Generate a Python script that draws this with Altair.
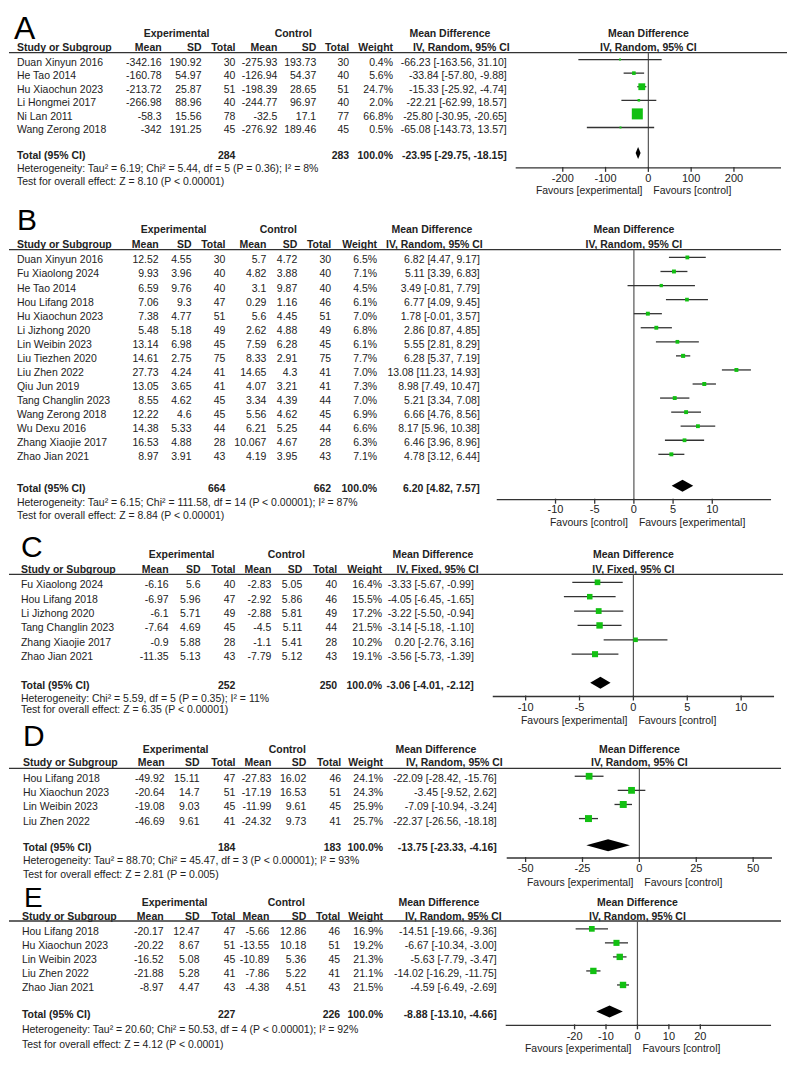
import altair as alt
import pandas as pd

FONT = "Liberation Sans"
INK = "#222222"
LINE = "#333333"
GREEN = "#12c012"

# ---------------- Panel A ----------------
A_study = ["Duan Xinyun 2016", "He Tao 2014", "Hu Xiaochun 2023", "Li Hongmei 2017", "Ni Lan 2011", "Wang Zerong 2018"]
A_em = [-342.16, -160.78, -213.72, -266.98, -58.3, -342]
A_esd = [190.92, 54.97, 25.87, 88.96, 15.56, 191.25]
A_en = [30, 40, 51, 40, 78, 45]
A_cm = [-275.93, -126.94, -198.39, -244.77, -32.5, -276.92]
A_csd = [193.73, 54.37, 28.65, 96.97, 17.1, 189.46]
A_cn = [30, 40, 51, 40, 77, 45]
A_w = [0.4, 5.6, 24.7, 2.0, 66.8, 0.5]
A_md = [-66.23, -33.84, -15.33, -22.21, -25.80, -65.08]
A_lo = [-163.56, -57.80, -25.92, -62.99, -30.95, -143.73]
A_hi = [31.10, -9.88, -4.74, 18.57, -20.65, 13.57]
A_tot_n = [284, 283]
A_tot = [-23.95, -29.75, -18.15]
A_het = "Heterogeneity: Tau\u00b2 = 6.19; Chi\u00b2 = 5.44, df = 5 (P = 0.36); I\u00b2 = 8%"
A_test = "Test for overall effect: Z = 8.10 (P < 0.00001)"
A_ticks = [-200, -100, 0, 100, 200]
A_fav = ["Favours [experimental]", "Favours [control]"]
A_method = "IV, Random, 95% CI"

# ---------------- Panel B ----------------
B_study = ["Duan Xinyun 2016", "Fu Xiaolong 2024", "He Tao 2014", "Hou Lifang 2018", "Hu Xiaochun 2023",
           "Li Jizhong 2020", "Lin Weibin 2023", "Liu Tiezhen 2020", "Liu Zhen 2022", "Qiu Jun 2019",
           "Tang Changlin 2023", "Wang Zerong 2018", "Wu Dexu 2016", "Zhang Xiaojie 2017", "Zhao Jian 2021"]
B_em = [12.52, 9.93, 6.59, 7.06, 7.38, 5.48, 13.14, 14.61, 27.73, 13.05, 8.55, 12.22, 14.38, 16.53, 8.97]
B_esd = [4.55, 3.96, 9.76, 9.3, 4.77, 5.18, 6.98, 2.75, 4.24, 3.65, 4.62, 4.6, 5.33, 4.88, 3.91]
B_en = [30, 40, 40, 47, 51, 49, 45, 75, 41, 41, 45, 45, 44, 28, 43]
B_cm = [5.7, 4.82, 3.1, 0.29, 5.6, 2.62, 7.59, 8.33, 14.65, 4.07, 3.34, 5.56, 6.21, 10.067, 4.19]
B_csd = [4.72, 3.88, 9.87, 1.16, 4.45, 4.88, 6.28, 2.91, 4.3, 3.21, 4.39, 4.62, 5.25, 4.67, 3.95]
B_cn = [30, 40, 40, 46, 51, 49, 45, 75, 41, 41, 44, 45, 44, 28, 43]
B_w = [6.5, 7.1, 4.5, 6.1, 7.0, 6.8, 6.1, 7.7, 7.0, 7.3, 7.0, 6.9, 6.6, 6.3, 7.1]
B_md = [6.82, 5.11, 3.49, 6.77, 1.78, 2.86, 5.55, 6.28, 13.08, 8.98, 5.21, 6.66, 8.17, 6.46, 4.78]
B_lo = [4.47, 3.39, -0.81, 4.09, -0.01, 0.87, 2.81, 5.37, 11.23, 7.49, 3.34, 4.76, 5.96, 3.96, 3.12]
B_hi = [9.17, 6.83, 7.79, 9.45, 3.57, 4.85, 8.29, 7.19, 14.93, 10.47, 7.08, 8.56, 10.38, 8.96, 6.44]
B_tot_n = [664, 662]
B_tot = [6.20, 4.82, 7.57]
B_het = "Heterogeneity: Tau\u00b2 = 6.15; Chi\u00b2 = 111.58, df = 14 (P < 0.00001); I\u00b2 = 87%"
B_test = "Test for overall effect: Z = 8.84 (P < 0.00001)"
B_ticks = [-10, -5, 0, 5, 10]
B_fav = ["Favours [control]", "Favours [experimental]"]
B_method = "IV, Random, 95% CI"

# ---------------- Panel C ----------------
C_study = ["Fu Xiaolong 2024", "Hou Lifang 2018", "Li Jizhong 2020", "Tang Changlin 2023", "Zhang Xiaojie 2017", "Zhao Jian 2021"]
C_em = [-6.16, -6.97, -6.1, -7.64, -0.9, -11.35]
C_esd = [5.6, 5.96, 5.71, 4.69, 5.88, 5.13]
C_en = [40, 47, 49, 45, 28, 43]
C_cm = [-2.83, -2.92, -2.88, -4.5, -1.1, -7.79]
C_csd = [5.05, 5.86, 5.81, 5.11, 5.41, 5.12]
C_cn = [40, 46, 49, 44, 28, 43]
C_w = [16.4, 15.5, 17.2, 21.5, 10.2, 19.1]
C_md = [-3.33, -4.05, -3.22, -3.14, 0.20, -3.56]
C_lo = [-5.67, -6.45, -5.50, -5.18, -2.76, -5.73]
C_hi = [-0.99, -1.65, -0.94, -1.10, 3.16, -1.39]
C_tot_n = [252, 250]
C_tot = [-3.06, -4.01, -2.12]
C_het = "Heterogeneity: Chi\u00b2 = 5.59, df = 5 (P = 0.35); I\u00b2 = 11%"
C_test = "Test for overall effect: Z = 6.35 (P < 0.00001)"
C_ticks = [-10, -5, 0, 5, 10]
C_fav = ["Favours [experimental]", "Favours [control]"]
C_method = "IV, Fixed, 95% CI"

# ---------------- Panel D ----------------
D_study = ["Hou Lifang 2018", "Hu Xiaochun 2023", "Lin Weibin 2023", "Liu Zhen 2022"]
D_em = [-49.92, -20.64, -19.08, -46.69]
D_esd = [15.11, 14.7, 9.03, 9.61]
D_en = [47, 51, 45, 41]
D_cm = [-27.83, -17.19, -11.99, -24.32]
D_csd = [16.02, 16.53, 9.61, 9.73]
D_cn = [46, 51, 45, 41]
D_w = [24.1, 24.3, 25.9, 25.7]
D_md = [-22.09, -3.45, -7.09, -22.37]
D_lo = [-28.42, -9.52, -10.94, -26.56]
D_hi = [-15.76, 2.62, -3.24, -18.18]
D_tot_n = [184, 183]
D_tot = [-13.75, -23.33, -4.16]
D_het = "Heterogeneity: Tau\u00b2 = 88.70; Chi\u00b2 = 45.47, df = 3 (P < 0.00001); I\u00b2 = 93%"
D_test = "Test for overall effect: Z = 2.81 (P = 0.005)"
D_ticks = [-50, -25, 0, 25, 50]
D_fav = ["Favours [experimental]", "Favours [control]"]
D_method = "IV, Random, 95% CI"

# ---------------- Panel E ----------------
E_study = ["Hou Lifang 2018", "Hu Xiaochun 2023", "Lin Weibin 2023", "Liu Zhen 2022", "Zhao Jian 2021"]
E_em = [-20.17, -20.22, -16.52, -21.88, -8.97]
E_esd = [12.47, 8.67, 5.08, 5.28, 4.47]
E_en = [47, 51, 45, 41, 43]
E_cm = [-5.66, -13.55, -10.89, -7.86, -4.38]
E_csd = [12.86, 10.18, 5.36, 5.22, 4.51]
E_cn = [46, 51, 45, 41, 43]
E_w = [16.9, 19.2, 21.3, 21.1, 21.5]
E_md = [-14.51, -6.67, -5.63, -14.02, -4.59]
E_lo = [-19.66, -10.34, -7.79, -16.29, -6.49]
E_hi = [-9.36, -3.00, -3.47, -11.75, -2.69]
E_tot_n = [227, 226]
E_tot = [-8.88, -13.10, -4.66]
E_het = "Heterogeneity: Tau\u00b2 = 20.60; Chi\u00b2 = 50.53, df = 4 (P < 0.00001); I\u00b2 = 92%"
E_test = "Test for overall effect: Z = 4.12 (P < 0.0001)"
E_ticks = [-20, -10, 0, 10, 20]
E_fav = ["Favours [experimental]", "Favours [control]"]
E_method = "IV, Random, 95% CI"


def pack(s, em, esd, en, cm, csd, cn, w, md, lo, hi, totn, tot, het, test, ticks, fav, method):
    return dict(study=s, em=em, esd=esd, en=en, cm=cm, csd=csd, cn=cn, w=w, md=md, lo=lo, hi=hi,
                totn=totn, tot=tot, het=het, test=test, ticks=ticks, fav=fav, method=method)


PANELS = {
    "A": pack(A_study, A_em, A_esd, A_en, A_cm, A_csd, A_cn, A_w, A_md, A_lo, A_hi, A_tot_n, A_tot, A_het, A_test, A_ticks, A_fav, A_method),
    "B": pack(B_study, B_em, B_esd, B_en, B_cm, B_csd, B_cn, B_w, B_md, B_lo, B_hi, B_tot_n, B_tot, B_het, B_test, B_ticks, B_fav, B_method),
    "C": pack(C_study, C_em, C_esd, C_en, C_cm, C_csd, C_cn, C_w, C_md, C_lo, C_hi, C_tot_n, C_tot, C_het, C_test, C_ticks, C_fav, C_method),
    "D": pack(D_study, D_em, D_esd, D_en, D_cm, D_csd, D_cn, D_w, D_md, D_lo, D_hi, D_tot_n, D_tot, D_het, D_test, D_ticks, D_fav, D_method),
    "E": pack(E_study, E_em, E_esd, E_en, E_cm, E_csd, E_cn, E_w, E_md, E_lo, E_hi, E_tot_n, E_tot, E_het, E_test, E_ticks, E_fav, E_method),
}

# ---------------- layout (page pixel positions) ----------------
LAYOUT = {
    "A": dict(letter=(13, 35, 32), h1=30, h2=44, line=49, line_end=792, first=59, last=128, total=154,
              het=167, test=180, axis=166, ticklab=177, fav=190, ax=(516, 782), dom=(-310, 310), sq=181,
              cols=dict(study=16, em=161, esd=201, en=235, cm=277, csd=316, cn=349, w=393, ci=507,
                        cihead=510, exp=176, ctl=293, mdhead=450)),
    "B": dict(letter=(16, 229, 30), h1=229, h2=244, line=249, line_end=782, first=260, last=460, total=492,
              het=506, test=520, axis=503, ticklab=514, fav=527, ax=(497, 772), dom=(-17.5, 17.5), sq=130,
              cols=dict(study=16, em=158, esd=191, en=225, cm=266, csd=297, cn=331, w=377, ci=480,
                        cihead=483, exp=173, ctl=278, mdhead=432)),
    "C": dict(letter=(20, 561, 30), h1=559, h2=574, line=579, line_end=784, first=590, last=663, total=692,
              het=705, test=717, axis=703, ticklab=715, fav=728, ax=(493, 775), dom=(-13.05, 13.05), sq=105,
              cols=dict(study=20, em=168, esd=200, en=235, cm=271, csd=302, cn=337, w=382, ci=474,
                        cihead=479, exp=181, ctl=286, mdhead=433)),
    "D": dict(letter=(22, 753, 30), h1=757, h2=771, line=776, line_end=782, first=787, last=830, total=857,
              het=870, test=884, axis=867, ticklab=878, fav=892, ax=(507, 773), dom=(-58.3, 58.3), sq=100,
              cols=dict(study=22, em=164, esd=199, en=235, cm=271, csd=306, cn=341, w=383, ci=497,
                        cihead=503, exp=175, ctl=287, mdhead=436)),
    "E": dict(letter=(23, 917, 28), h1=913, h2=927, line=931, line_end=782, first=942, last=999, total=1026,
              het=1042, test=1057, axis=1037, ticklab=1049, fav=1061, ax=(506, 772), dom=(-41.9, 42.5), sq=118,
              cols=dict(study=21, em=163, esd=199, en=235, cm=269, csd=306, cn=340, w=383, ci=497,
                        cihead=502, exp=174, ctl=286, mdhead=439)),
}
SLOT_EDGES = [0, 197, 533, 712, 863, 1050]


def cy(r):
    return (r - 8) * 0.987


def cx(r):
    return max(0.0, min(780.0, r - 8))


DUMMY = pd.DataFrame({"k": [0]})
FS = 10.5


def num(v):
    return str(v) if isinstance(v, int) else repr(v)


def label(x, y, s, align="left", bold=False, size=FS, baseline="middle", color=INK):
    return alt.Chart(DUMMY).mark_text(
        text=s, align=align, baseline=baseline, fontSize=size,
        fontWeight="bold" if bold else "normal", font=FONT, color=color
    ).encode(x=alt.value(x), y=alt.value(y))


def build(key, T, H):
    P = PANELS[key]
    L = LAYOUT[key]
    C = L["cols"]
    n = len(P["study"])

    def ly(r):
        return cy(r) - T

    y0 = ly(L["first"]) - 3
    y1 = ly(L["last"]) - 3
    step = (y1 - y0) / (n - 1)
    ysc = alt.Scale(domain=[0, n - 1], range=[y0, y1], nice=False, zero=False)
    xsc = alt.Scale(domain=list(L["dom"]), range=[cx(L["ax"][0]), cx(L["ax"][1])], nice=False, zero=False)

    df = pd.DataFrame({
        "row": list(range(n)),
        "study": P["study"],
        "em_s": [num(v) for v in P["em"]],
        "esd_s": [num(v) for v in P["esd"]],
        "en_s": [num(v) for v in P["en"]],
        "cm_s": [num(v) for v in P["cm"]],
        "csd_s": [num(v) for v in P["csd"]],
        "cn_s": [num(v) for v in P["cn"]],
        "w_s": [f"{w:.1f}%" for w in P["w"]],
        "ci_s": [f"{m:.2f} [{a:.2f}, {b:.2f}]" for m, a, b in zip(P["md"], P["lo"], P["hi"])],
        "md": P["md"], "lo": P["lo"], "hi": P["hi"], "w": P["w"],
    })
    Y = alt.Y("row:Q", scale=ysc, axis=None)

    def XF(f):
        return alt.X(f, type="quantitative", scale=xsc, axis=None)

    def X0():
        return alt.XDatum(0, type="quantitative", scale=xsc, axis=None)

    layers = []
    lx, lb, ls = L["letter"]
    layers.append(label(cx(lx), ly(lb), key, size=ls, baseline="alphabetic", color="#000000"))

    # headers
    h1, h2 = ly(L["h1"]), ly(L["h2"])
    layers += [
        label(cx(C["exp"]), h1, "Experimental", "center", True),
        label(cx(C["ctl"]), h1, "Control", "center", True),
        label(cx(C["mdhead"]), h1, "Mean Difference", "center", True),
        label(cx(C["study"]), h2, "Study or Subgroup", "left", True),
        label(cx(C["em"]), h2, "Mean", "right", True),
        label(cx(C["esd"]), h2, "SD", "right", True),
        label(cx(C["en"]), h2, "Total", "right", True),
        label(cx(C["cm"]), h2, "Mean", "right", True),
        label(cx(C["csd"]), h2, "SD", "right", True),
        label(cx(C["cn"]), h2, "Total", "right", True),
        label(cx(C["w"]), h2, "Weight", "right", True),
        label(cx(C["cihead"]), h2, P["method"], "right", True),
    ]
    # forest headers centred on zero
    for yy, s in [(h1, "Mean Difference"), (h2, P["method"])]:
        layers.append(alt.Chart(DUMMY).mark_text(
            text=s, align="center", baseline="middle", fontSize=FS, fontWeight="bold", font=FONT, color=INK
        ).encode(x=X0(), y=alt.value(yy)))

    # header rule
    layers.append(alt.Chart(DUMMY).mark_rule(color=LINE, strokeWidth=1.3).encode(
        x=alt.value(cx(5)), x2=alt.value(cx(L["line_end"])), y=alt.value(ly(L["line"]))))

    # table rows
    for field, xpos, align in [("study", C["study"], "left"), ("em_s", C["em"], "right"),
                               ("esd_s", C["esd"], "right"), ("en_s", C["en"], "right"),
                               ("cm_s", C["cm"], "right"), ("csd_s", C["csd"], "right"),
                               ("cn_s", C["cn"], "right"), ("w_s", C["w"], "right"),
                               ("ci_s", C["ci"], "right")]:
        layers.append(alt.Chart(df).mark_text(
            align=align, baseline="middle", dy=3, fontSize=FS, font=FONT, color=INK
        ).encode(x=alt.value(cx(xpos)), y=Y, text=alt.Text(f"{field}:N")))

    # total row
    ty = ly(L["total"])
    md_t, lo_t, hi_t = P["tot"]
    layers += [
        label(cx(C["study"]), ty, "Total (95% CI)", "left", True),
        label(cx(C["en"]), ty, str(P["totn"][0]), "right", True),
        label(cx(C["cn"]), ty, str(P["totn"][1]), "right", True),
        label(cx(C["w"]), ty, "100.0%", "right", True),
        label(cx(C["ci"]), ty, f"{md_t:.2f} [{lo_t:.2f}, {hi_t:.2f}]", "right", True),
        label(cx(C["study"]), ly(L["het"]), P["het"], "left"),
        label(cx(C["study"]), ly(L["test"]), P["test"], "left"),
    ]

    # forest: zero line, CIs, squares, diamond, axis
    ax_y = ly(L["axis"])
    layers.append(alt.Chart(DUMMY).mark_rule(color="#555555", strokeWidth=1.2).encode(
        x=X0(), y=alt.value(ly(L["line"])), y2=alt.value(ax_y)))
    layers.append(alt.Chart(df).mark_rule(color=LINE, strokeWidth=1.3).encode(
        x=XF("lo"), x2="hi:Q", y=Y))
    layers.append(alt.Chart(df).mark_square(color=GREEN, opacity=1, filled=True).encode(
        x=XF("md"), y=Y,
        size=alt.Size("w:Q", scale=alt.Scale(domain=[0, 100], range=[3, L["sq"]]), legend=None)))

    tr = (ty - 3 - y0) / step
    hr = 6.0 / step
    dia = pd.DataFrame({"x": [lo_t, md_t, hi_t], "ya": [tr, tr - hr, tr], "yb": [tr, tr + hr, tr]})
    layers.append(alt.Chart(dia).mark_area(color="#000000", orient="vertical", opacity=1).encode(
        x=XF("x"), y=alt.Y("ya:Q", scale=ysc, axis=None, stack=None), y2="yb:Q"))

    dmin, dmax = L["dom"]
    layers.append(alt.Chart(DUMMY).mark_rule(color=LINE, strokeWidth=1.4).encode(
        x=alt.XDatum(dmin, type="quantitative", scale=xsc, axis=None), x2=alt.X2Datum(dmax),
        y=alt.value(ax_y)))
    tk = pd.DataFrame({"t": P["ticks"], "lab": [str(t) for t in P["ticks"]]})
    layers.append(alt.Chart(tk).mark_rule(color=LINE, strokeWidth=1.3).encode(
        x=XF("t"), y=alt.value(ax_y - 1), y2=alt.value(ax_y + 4)))
    layers.append(alt.Chart(tk).mark_text(
        baseline="middle", align="center", fontSize=11, font=FONT, color=INK
    ).encode(x=XF("t"), y=alt.value(ly(L["ticklab"])), text="lab:N"))
    fy = ly(L["fav"])
    layers.append(alt.Chart(DUMMY).mark_text(
        text=P["fav"][0], align="right", dx=-6, baseline="middle", fontSize=FS, font=FONT, color=INK
    ).encode(x=X0(), y=alt.value(fy)))
    layers.append(alt.Chart(DUMMY).mark_text(
        text=P["fav"][1], align="left", dx=5, baseline="middle", fontSize=FS, font=FONT, color=INK
    ).encode(x=X0(), y=alt.value(fy)))

    return alt.layer(*layers).properties(width=780, height=H)


edges = [0] + [round(cy(e)) for e in SLOT_EDGES[1:]]
charts = []
for i, key in enumerate(["A", "B", "C", "D", "E"]):
    T = edges[i]
    H = edges[i + 1] - edges[i]
    charts.append(build(key, T, H))

chart = alt.vconcat(*charts, spacing=0, bounds="flush").properties(
    padding={"top": 3, "left": 0, "right": 0, "bottom": 0}, background="white"
).configure_view(strokeWidth=0)

chart.save("out.html", embed_options={"renderer": "svg", "actions": False})
